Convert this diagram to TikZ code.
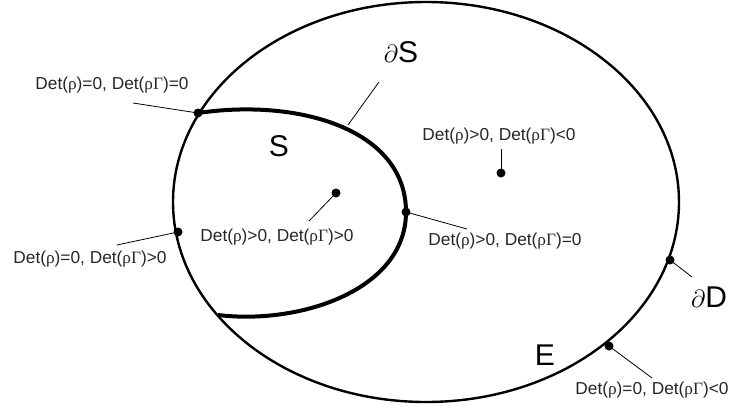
\documentclass[tikz,border=0pt]{standalone}
\usepackage{fontspec}
\setmainfont{Liberation Sans}
\newfontfamily\grk{Liberation Serif}
\newcommand\rh{{\grk ρ}}
\newcommand\Gm{{\grk Γ}}
\begin{document}
\begin{tikzpicture}[x=1pt,y=-1pt,
  dot/.style={circle,fill=black,inner sep=0pt,minimum size=9pt},
  lbl/.style={font=\fontsize{17.3}{19}\selectfont,inner sep=0pt,text=black!85},
  big/.style={font=\fontsize{30}{32}\selectfont,inner sep=0pt},
  leader/.style={line width=0.8pt}]
\useasboundingbox (0,0) rectangle (737,407);
\draw[line width=2.4pt] (426,202) ellipse [x radius=253pt, y radius=200pt];
\draw[line width=4pt] (198,113) .. controls (300,98) and (406,130) .. (406,212)
  .. controls (406,290) and (300,325) .. (218,315);
% dots
\node[dot] (p1) at (198,113) {};
\node[dot] (p2) at (178,232) {};
\node[dot] (p3) at (336,193) {};
\node[dot] (p4) at (501,173) {};
\node[dot] (p5) at (406,212) {};
\node[dot] (p6) at (670,260) {};
\node[dot] (p7) at (609,346) {};
% leader ends
\coordinate (c1) at (133,103);
\coordinate (c2) at (117,245);
\coordinate (c3) at (309,221);
\coordinate (c4) at (501,149);
\coordinate (c5) at (467,229);
\coordinate (c6) at (692,277);
\coordinate (c7) at (652,378);
\coordinate (cs1) at (379,82);
\coordinate (cs2) at (348,125);
\draw[leader] (p1.center) -- (c1);
\draw[leader] (p2.center) -- (c2);
\draw[leader] (p3.center) -- (c3);
\draw[leader] (p4.center) -- (c4);
\draw[leader] (p5.center) -- (c5);
\draw[leader] (p6.center) -- (c6);
\draw[leader] (p7.center) -- (c7);
\draw[leader] (cs1) -- (cs2);
% labels
\node[lbl] (t1) at (112,85) {Det(\rh)=0, Det(\rh\Gm)=0};
\node[lbl] (t2) at (90,259) {Det(\rh)=0, Det(\rh\Gm)>0};
\node[lbl] (t3) at (277,237) {Det(\rh)>0, Det(\rh\Gm)>0};
\node[lbl] (t4) at (499,136) {Det(\rh)>0, Det(\rh\Gm)<0};
\node[lbl] (t5) at (505,241) {Det(\rh)>0, Det(\rh\Gm)=0};
\node[lbl] (t6) at (652,390) {Det(\rh)=0, Det(\rh\Gm)<0};
\node[big] (dS) at (401,52) {$\partial$S};
\node[big] (S) at (279,146) {S};
\node[big] (dD) at (709,297) {$\partial$D};
\node[big] (E) at (545,355) {E};
\end{tikzpicture}
\end{document}
